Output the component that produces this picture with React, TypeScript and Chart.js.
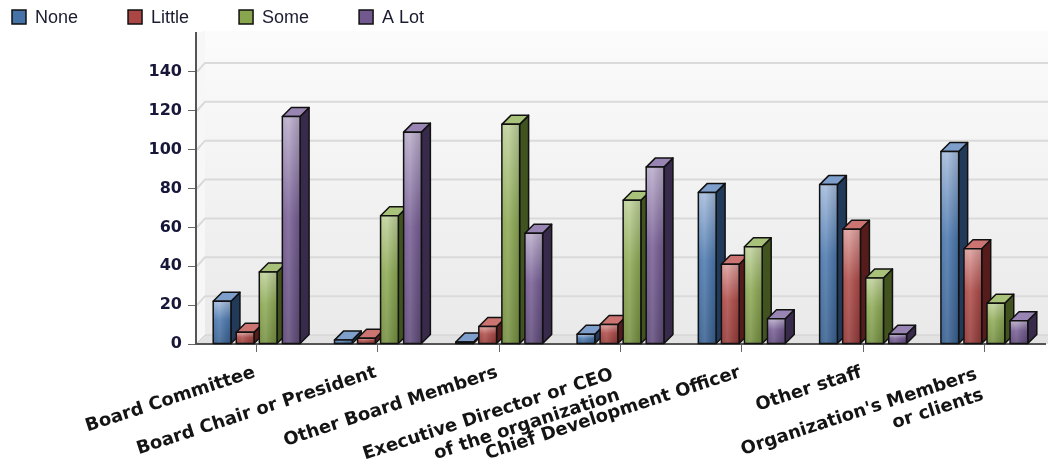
import React, { useEffect, useRef } from 'react';
import { Chart, registerables } from 'chart.js';

Chart.register(...registerables);

const categories: (string | string[])[] = [
  'Board Committee',
  'Board Chair or President',
  'Other Board Members',
  ['Executive Director or CEO ', 'of the organization '],
  'Chief Development Officer',
  'Other staff',
  ["Organization's Members ", 'or clients '],
];

const seriesNames = ['None', 'Little', 'Some', 'A Lot'];
const noneValues = [22, 2, 1, 5, 78, 82, 99];
const littleValues = [6, 3, 9, 10, 41, 59, 49];
const someValues = [37, 66, 113, 74, 50, 34, 21];
const aLotValues = [117, 109, 57, 91, 13, 5, 12];
const yTickValues = [0, 20, 40, 60, 80, 100, 120, 140];
const yMax = 160;

const baseColors = ['#4572A7', '#AA4643', '#89A54E', '#71588F'];
const faceStyles = [
  { hi: '#a3badb', mid: '#4a77ad', lo: '#365e8f', top: '#7e9fcb', side: '#213a5a' },
  { hi: '#dc9c99', mid: '#ad4a47', lo: '#933836', top: '#cc7471', side: '#561c1b' },
  { hi: '#bfd19a', mid: '#8ba852', lo: '#728d3d', top: '#a9c27a', side: '#41531e' },
  { hi: '#b8abca', mid: '#755c93', lo: '#5d4878', top: '#9985b4', side: '#382a4a' },
];

const DEPTH = 9;

const threeDPlugin = {
  id: 'threeD',
  beforeDraw(chart: any) {
    const { ctx, chartArea: a, scales } = chart;
    const ys = scales.y;
    const W = chart.width;
    ctx.save();
    // back wall
    const g = ctx.createLinearGradient(0, a.top, 0, a.bottom);
    g.addColorStop(0, '#fbfbfb');
    g.addColorStop(1, '#e9e9e9');
    ctx.fillStyle = g;
    ctx.fillRect(a.left + DEPTH, a.top - 2, W - (a.left + DEPTH), a.bottom - DEPTH - (a.top - 2));
    // left wall
    ctx.fillStyle = '#f7f7f7';
    ctx.beginPath();
    ctx.moveTo(a.left, a.top);
    ctx.lineTo(a.left + DEPTH, a.top - 2);
    ctx.lineTo(a.left + DEPTH, a.bottom - DEPTH);
    ctx.lineTo(a.left, a.bottom);
    ctx.closePath();
    ctx.fill();
    // floor
    ctx.fillStyle = '#e2e2e2';
    ctx.beginPath();
    ctx.moveTo(a.left, a.bottom);
    ctx.lineTo(W, a.bottom);
    ctx.lineTo(W, a.bottom - DEPTH);
    ctx.lineTo(a.left + DEPTH, a.bottom - DEPTH);
    ctx.closePath();
    ctx.fill();
    ctx.strokeStyle = '#cfcfcf';
    ctx.lineWidth = 1;
    ctx.beginPath();
    ctx.moveTo(a.left, a.bottom);
    ctx.lineTo(a.left + DEPTH, a.bottom - DEPTH);
    ctx.lineTo(W, a.bottom - DEPTH);
    ctx.stroke();
    // gridlines on back wall
    ctx.strokeStyle = '#dadada';
    ctx.lineWidth = 2;
    yTickValues.forEach((v) => {
      if (v === 0) return;
      const py = ys.getPixelForValue(v);
      ctx.beginPath();
      ctx.moveTo(a.left + 1, py);
      ctx.lineTo(a.left + DEPTH, py - DEPTH);
      ctx.lineTo(W, py - DEPTH);
      ctx.stroke();
    });
    ctx.restore();
  },
  afterDatasetsDraw(chart: any) {
    const { ctx } = chart;
    ctx.save();
    chart.data.datasets.forEach((_ds: any, i: number) => {
      const meta = chart.getDatasetMeta(i);
      const st = faceStyles[i];
      meta.data.forEach((el: any) => {
        const { x, y, base, width } = el.getProps(['x', 'y', 'base', 'width'], true);
        const l = x - width / 2;
        const r = x + width / 2;
        ctx.lineWidth = 1.5;
        ctx.strokeStyle = '#111';
        ctx.lineJoin = 'round';
        // side
        ctx.fillStyle = st.side;
        ctx.beginPath();
        ctx.moveTo(r, y);
        ctx.lineTo(r + DEPTH, y - DEPTH);
        ctx.lineTo(r + DEPTH, base - DEPTH);
        ctx.lineTo(r, base);
        ctx.closePath();
        ctx.fill();
        ctx.stroke();
        // top
        ctx.fillStyle = st.top;
        ctx.beginPath();
        ctx.moveTo(l, y);
        ctx.lineTo(l + DEPTH, y - DEPTH);
        ctx.lineTo(r + DEPTH, y - DEPTH);
        ctx.lineTo(r, y);
        ctx.closePath();
        ctx.fill();
        ctx.stroke();
        // front
        const h = Math.max(base - y, 1);
        const fg = ctx.createLinearGradient(0, y, 0, y + h);
        fg.addColorStop(0, st.hi);
        fg.addColorStop(0.45, st.mid);
        fg.addColorStop(1, st.lo);
        ctx.fillStyle = fg;
        ctx.fillRect(l, y, r - l, base - y);
        const hg = ctx.createLinearGradient(l, 0, r, 0);
        hg.addColorStop(0, 'rgba(255,255,255,0.05)');
        hg.addColorStop(0.35, 'rgba(255,255,255,0.15)');
        hg.addColorStop(1, 'rgba(0,0,0,0.12)');
        ctx.fillStyle = hg;
        ctx.fillRect(l, y, r - l, base - y);
        ctx.strokeRect(l, y, r - l, base - y);
      });
    });
    ctx.restore();
  },
  afterDraw(chart: any) {
    const { ctx } = chart;
    ctx.save();
    ctx.font = '18px "Liberation Sans", Arial, sans-serif';
    ctx.textBaseline = 'middle';
    ctx.textAlign = 'left';
    let x = 12;
    chart.data.datasets.forEach((ds: any, i: number) => {
      ctx.fillStyle = baseColors[i];
      ctx.fillRect(x, 10, 14, 14);
      ctx.strokeStyle = '#111';
      ctx.lineWidth = 1.5;
      ctx.strokeRect(x, 10, 14, 14);
      ctx.fillStyle = '#1c1c30';
      ctx.fillText(ds.label, x + 23, 18);
      x += 23 + ctx.measureText(ds.label).width + 50;
    });
    ctx.restore();
  },
};

export default function App() {
  const ref = useRef<HTMLCanvasElement | null>(null);
  useEffect(() => {
    document.body.style.margin = '0';
    const canvas = ref.current!;
    const series = [noneValues, littleValues, someValues, aLotValues];
    const chart = new Chart(canvas, {
      type: 'bar',
      data: {
        labels: categories,
        datasets: series.map((vals, i) => ({
          label: seriesNames[i],
          data: vals,
          backgroundColor: 'rgba(0,0,0,0)',
          borderWidth: 0,
          categoryPercentage: 0.76,
          barPercentage: 0.77,
        })),
      },
      options: {
        responsive: false,
        animation: false,
        events: [],
        devicePixelRatio: 1,
        layout: { padding: { top: 33, right: 3, left: 0, bottom: 0 } },
        plugins: { legend: { display: false }, tooltip: { enabled: false } },
        scales: {
          x: {
            afterFit: (s: any) => { s.height = 128; },
            grid: { display: true, drawOnChartArea: false, drawTicks: true, tickLength: 8, offset: false, color: '#666' },
            border: { display: true, color: '#555', width: 2 },
            ticks: {
              autoSkip: false,
              minRotation: 18,
              maxRotation: 18,
              padding: 10,
              labelOffset: -2,
              color: '#141414',
              font: { family: '"DejaVu Sans", Verdana, sans-serif', size: 18, weight: 'bold' },
            },
          },
          y: {
            min: 0,
            max: yMax,
            afterFit: (s: any) => { s.width = 196; },
            grid: {
              display: true,
              drawOnChartArea: false,
              drawTicks: true,
              tickLength: 8,
              color: (c: any) => (c.tick && yTickValues.includes(c.tick.value) ? '#666' : 'rgba(0,0,0,0)'),
            },
            border: { display: true, color: '#555', width: 2 },
            ticks: {
              stepSize: 20,
              padding: 6,
              color: '#17173a',
              callback: (v: any) => (yTickValues.includes(Number(v)) ? String(v) : ''),
              font: { family: '"DejaVu Sans", Verdana, sans-serif', size: 16, weight: 'bold' },
            },
          },
        },
      },
      plugins: [threeDPlugin],
    } as any);
    return () => chart.destroy();
  }, []);
  return (
    <canvas ref={ref} width={1048} height={472} style={{ display: 'block', width: 1048, height: 472 }} />
  );
}
